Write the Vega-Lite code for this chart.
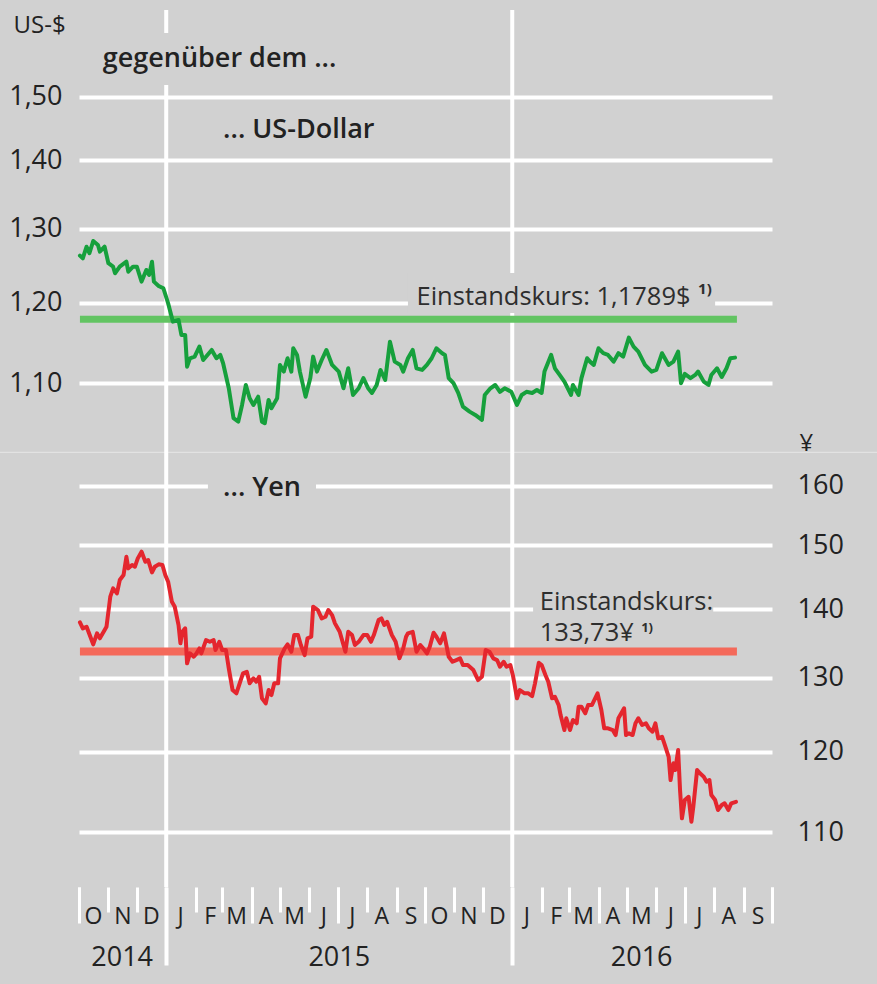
{
  "$schema": "https://vega.github.io/schema/vega-lite/v6.json",
  "width": 693,
  "height": 877,
  "autosize": {"type": "none"},
  "padding": {"left": 79, "top": 10, "right": 105, "bottom": 97},
  "background": "#d1d1d1",
  "config": {
    "view": {"stroke": null},
    "font": "Open Sans",
    "axis": {"labelFont": "Open Sans", "titleFont": "Open Sans", "labelColor": "#222222", "titleColor": "#222222"},
    "text": {"font": "Open Sans", "color": "#222222"}
  },
  "datasets": {
    "usd": [
      {"date": "2014-10-02", "rate": 1.2630}, {"date": "2014-10-05", "rate": 1.2594}, {"date": "2014-10-09", "rate": 1.2753},
      {"date": "2014-10-12", "rate": 1.2663}, {"date": "2014-10-16", "rate": 1.2832}, {"date": "2014-10-21", "rate": 1.2777},
      {"date": "2014-10-23", "rate": 1.2685}, {"date": "2014-10-28", "rate": 1.2753}, {"date": "2014-11-01", "rate": 1.2527},
      {"date": "2014-11-06", "rate": 1.2480}, {"date": "2014-11-08", "rate": 1.2392}, {"date": "2014-11-13", "rate": 1.2480},
      {"date": "2014-11-20", "rate": 1.2548}, {"date": "2014-11-22", "rate": 1.2413}, {"date": "2014-11-27", "rate": 1.2480},
      {"date": "2014-12-01", "rate": 1.2480}, {"date": "2014-12-06", "rate": 1.2280}, {"date": "2014-12-11", "rate": 1.2436},
      {"date": "2014-12-14", "rate": 1.2369}, {"date": "2014-12-17", "rate": 1.2548}, {"date": "2014-12-19", "rate": 1.2280},
      {"date": "2014-12-24", "rate": 1.2223}, {"date": "2014-12-29", "rate": 1.2192}, {"date": "2015-01-03", "rate": 1.1996},
      {"date": "2015-01-08", "rate": 1.1760}, {"date": "2015-01-14", "rate": 1.1781}, {"date": "2015-01-17", "rate": 1.1592},
      {"date": "2015-01-21", "rate": 1.1592}, {"date": "2015-01-23", "rate": 1.1201}, {"date": "2015-01-26", "rate": 1.1303},
      {"date": "2015-01-31", "rate": 1.1323}, {"date": "2015-02-05", "rate": 1.1446}, {"date": "2015-02-09", "rate": 1.1282},
      {"date": "2015-02-18", "rate": 1.1405}, {"date": "2015-02-23", "rate": 1.1303}, {"date": "2015-02-27", "rate": 1.1344},
      {"date": "2015-03-02", "rate": 1.1242}, {"date": "2015-03-08", "rate": 1.0942}, {"date": "2015-03-13", "rate": 1.0593},
      {"date": "2015-03-18", "rate": 1.0554}, {"date": "2015-03-22", "rate": 1.0746}, {"date": "2015-03-26", "rate": 1.0981},
      {"date": "2015-03-30", "rate": 1.0825}, {"date": "2015-04-03", "rate": 1.0746}, {"date": "2015-04-08", "rate": 1.0843},
      {"date": "2015-04-12", "rate": 1.0554}, {"date": "2015-04-15", "rate": 1.0536}, {"date": "2015-04-19", "rate": 1.0805},
      {"date": "2015-04-22", "rate": 1.0708}, {"date": "2015-04-28", "rate": 1.0825}, {"date": "2015-05-01", "rate": 1.1222},
      {"date": "2015-05-05", "rate": 1.1141}, {"date": "2015-05-09", "rate": 1.1303}, {"date": "2015-05-13", "rate": 1.1141},
      {"date": "2015-05-15", "rate": 1.1426}, {"date": "2015-05-19", "rate": 1.1344}, {"date": "2015-05-22", "rate": 1.1141},
      {"date": "2015-05-28", "rate": 1.0843}, {"date": "2015-06-02", "rate": 1.1063}, {"date": "2015-06-05", "rate": 1.1323},
      {"date": "2015-06-09", "rate": 1.1141}, {"date": "2015-06-14", "rate": 1.1282}, {"date": "2015-06-19", "rate": 1.1405},
      {"date": "2015-06-25", "rate": 1.1222}, {"date": "2015-07-02", "rate": 1.1141}, {"date": "2015-07-07", "rate": 1.0942},
      {"date": "2015-07-12", "rate": 1.1181}, {"date": "2015-07-17", "rate": 1.0863}, {"date": "2015-07-23", "rate": 1.0942},
      {"date": "2015-07-28", "rate": 1.1063}, {"date": "2015-08-02", "rate": 1.0942}, {"date": "2015-08-06", "rate": 1.0887},
      {"date": "2015-08-11", "rate": 1.0981}, {"date": "2015-08-15", "rate": 1.1161}, {"date": "2015-08-20", "rate": 1.1041},
      {"date": "2015-08-25", "rate": 1.1508}, {"date": "2015-08-30", "rate": 1.1262}, {"date": "2015-09-05", "rate": 1.1222},
      {"date": "2015-09-08", "rate": 1.1141}, {"date": "2015-09-13", "rate": 1.1303}, {"date": "2015-09-18", "rate": 1.1405},
      {"date": "2015-09-22", "rate": 1.1181}, {"date": "2015-09-28", "rate": 1.1161}, {"date": "2015-10-03", "rate": 1.1222},
      {"date": "2015-10-08", "rate": 1.1303}, {"date": "2015-10-13", "rate": 1.1426}, {"date": "2015-10-19", "rate": 1.1365},
      {"date": "2015-10-22", "rate": 1.1344}, {"date": "2015-10-26", "rate": 1.1063}, {"date": "2015-10-31", "rate": 1.1002},
      {"date": "2015-11-05", "rate": 1.0887}, {"date": "2015-11-10", "rate": 1.0727}, {"date": "2015-11-17", "rate": 1.0669},
      {"date": "2015-11-23", "rate": 1.0631}, {"date": "2015-11-30", "rate": 1.0574}, {"date": "2015-12-03", "rate": 1.0863},
      {"date": "2015-12-09", "rate": 1.0942}, {"date": "2015-12-14", "rate": 1.0981}, {"date": "2015-12-19", "rate": 1.0900},
      {"date": "2015-12-24", "rate": 1.0942}, {"date": "2015-12-31", "rate": 1.0900}, {"date": "2016-01-06", "rate": 1.0746},
      {"date": "2016-01-11", "rate": 1.0863}, {"date": "2016-01-16", "rate": 1.0900}, {"date": "2016-01-22", "rate": 1.0887},
      {"date": "2016-01-27", "rate": 1.0922}, {"date": "2016-02-01", "rate": 1.0887}, {"date": "2016-02-04", "rate": 1.1141},
      {"date": "2016-02-11", "rate": 1.1344}, {"date": "2016-02-15", "rate": 1.1181}, {"date": "2016-02-20", "rate": 1.1101},
      {"date": "2016-02-25", "rate": 1.1021}, {"date": "2016-03-03", "rate": 1.0863}, {"date": "2016-03-05", "rate": 1.0981},
      {"date": "2016-03-11", "rate": 1.0863}, {"date": "2016-03-14", "rate": 1.1063}, {"date": "2016-03-20", "rate": 1.1303},
      {"date": "2016-03-23", "rate": 1.1262}, {"date": "2016-03-27", "rate": 1.1222}, {"date": "2016-04-01", "rate": 1.1426},
      {"date": "2016-04-06", "rate": 1.1365}, {"date": "2016-04-11", "rate": 1.1344}, {"date": "2016-04-17", "rate": 1.1262},
      {"date": "2016-04-22", "rate": 1.1365}, {"date": "2016-04-27", "rate": 1.1323}, {"date": "2016-05-03", "rate": 1.1558},
      {"date": "2016-05-08", "rate": 1.1446}, {"date": "2016-05-13", "rate": 1.1384}, {"date": "2016-05-20", "rate": 1.1222},
      {"date": "2016-05-27", "rate": 1.1141}, {"date": "2016-06-01", "rate": 1.1161}, {"date": "2016-06-07", "rate": 1.1365},
      {"date": "2016-06-14", "rate": 1.1222}, {"date": "2016-06-19", "rate": 1.1262}, {"date": "2016-06-24", "rate": 1.1384},
      {"date": "2016-06-27", "rate": 1.1002}, {"date": "2016-07-01", "rate": 1.1113}, {"date": "2016-07-07", "rate": 1.1063},
      {"date": "2016-07-12", "rate": 1.1101}, {"date": "2016-07-15", "rate": 1.1141}, {"date": "2016-07-21", "rate": 1.1021},
      {"date": "2016-07-26", "rate": 1.0981}, {"date": "2016-07-29", "rate": 1.1101}, {"date": "2016-08-04", "rate": 1.1181},
      {"date": "2016-08-09", "rate": 1.1077}, {"date": "2016-08-14", "rate": 1.1181}, {"date": "2016-08-18", "rate": 1.1303},
      {"date": "2016-08-23", "rate": 1.1311}
    ],
    "yen": [
      {"date": "2014-10-02", "rate": 138.03}, {"date": "2014-10-05", "rate": 137.14}, {"date": "2014-10-09", "rate": 137.38},
      {"date": "2014-10-13", "rate": 135.90}, {"date": "2014-10-16", "rate": 134.78}, {"date": "2014-10-20", "rate": 136.40},
      {"date": "2014-10-23", "rate": 135.66}, {"date": "2014-10-27", "rate": 136.63}, {"date": "2014-10-30", "rate": 137.38},
      {"date": "2014-11-03", "rate": 141.91}, {"date": "2014-11-06", "rate": 143.20}, {"date": "2014-11-10", "rate": 142.43},
      {"date": "2014-11-13", "rate": 144.49}, {"date": "2014-11-17", "rate": 145.28}, {"date": "2014-11-20", "rate": 148.18},
      {"date": "2014-11-22", "rate": 146.33}, {"date": "2014-11-26", "rate": 146.86}, {"date": "2014-11-29", "rate": 146.59},
      {"date": "2014-12-02", "rate": 147.92}, {"date": "2014-12-06", "rate": 148.99}, {"date": "2014-12-10", "rate": 147.38},
      {"date": "2014-12-13", "rate": 147.65}, {"date": "2014-12-17", "rate": 145.70}, {"date": "2014-12-20", "rate": 146.59},
      {"date": "2014-12-24", "rate": 146.97}, {"date": "2014-12-28", "rate": 146.86}, {"date": "2014-12-31", "rate": 145.28},
      {"date": "2015-01-03", "rate": 144.23}, {"date": "2015-01-07", "rate": 141.14}, {"date": "2015-01-10", "rate": 140.38},
      {"date": "2015-01-14", "rate": 137.63}, {"date": "2015-01-16", "rate": 134.93}, {"date": "2015-01-18", "rate": 136.63},
      {"date": "2015-01-21", "rate": 137.14}, {"date": "2015-01-23", "rate": 132.04}, {"date": "2015-01-26", "rate": 133.48},
      {"date": "2015-01-30", "rate": 132.99}, {"date": "2015-02-02", "rate": 133.48}, {"date": "2015-02-05", "rate": 134.20},
      {"date": "2015-02-07", "rate": 133.48}, {"date": "2015-02-12", "rate": 135.41}, {"date": "2015-02-16", "rate": 135.16},
      {"date": "2015-02-20", "rate": 135.41}, {"date": "2015-02-22", "rate": 133.96}, {"date": "2015-02-26", "rate": 135.16},
      {"date": "2015-03-01", "rate": 133.96}, {"date": "2015-03-05", "rate": 133.96}, {"date": "2015-03-08", "rate": 131.33},
      {"date": "2015-03-12", "rate": 128.28}, {"date": "2015-03-16", "rate": 127.83}, {"date": "2015-03-20", "rate": 129.44},
      {"date": "2015-03-23", "rate": 130.62}, {"date": "2015-03-27", "rate": 130.85}, {"date": "2015-03-30", "rate": 129.22},
      {"date": "2015-04-03", "rate": 129.92}, {"date": "2015-04-06", "rate": 129.44}, {"date": "2015-04-09", "rate": 130.14},
      {"date": "2015-04-12", "rate": 127.14}, {"date": "2015-04-16", "rate": 126.45}, {"date": "2015-04-19", "rate": 128.28},
      {"date": "2015-04-22", "rate": 127.59}, {"date": "2015-04-25", "rate": 129.22}, {"date": "2015-04-29", "rate": 129.22},
      {"date": "2015-05-01", "rate": 132.76}, {"date": "2015-05-06", "rate": 134.20}, {"date": "2015-05-09", "rate": 134.78},
      {"date": "2015-05-13", "rate": 133.71}, {"date": "2015-05-16", "rate": 136.15}, {"date": "2015-05-20", "rate": 136.15},
      {"date": "2015-05-23", "rate": 134.68}, {"date": "2015-05-27", "rate": 133.23}, {"date": "2015-05-30", "rate": 135.66},
      {"date": "2015-06-03", "rate": 135.90}, {"date": "2015-06-05", "rate": 140.38}, {"date": "2015-06-10", "rate": 139.88},
      {"date": "2015-06-14", "rate": 138.63}, {"date": "2015-06-18", "rate": 138.87}, {"date": "2015-06-21", "rate": 139.88},
      {"date": "2015-06-25", "rate": 139.12}, {"date": "2015-06-28", "rate": 137.88}, {"date": "2015-07-03", "rate": 136.63},
      {"date": "2015-07-09", "rate": 133.71}, {"date": "2015-07-12", "rate": 136.63}, {"date": "2015-07-16", "rate": 136.15},
      {"date": "2015-07-19", "rate": 134.68}, {"date": "2015-07-23", "rate": 135.16}, {"date": "2015-07-28", "rate": 136.15},
      {"date": "2015-08-01", "rate": 136.15}, {"date": "2015-08-05", "rate": 135.16}, {"date": "2015-08-08", "rate": 136.15},
      {"date": "2015-08-13", "rate": 138.37}, {"date": "2015-08-16", "rate": 138.63}, {"date": "2015-08-19", "rate": 137.63},
      {"date": "2015-08-22", "rate": 138.12}, {"date": "2015-08-27", "rate": 136.15}, {"date": "2015-08-31", "rate": 135.16},
      {"date": "2015-09-04", "rate": 132.76}, {"date": "2015-09-08", "rate": 134.20}, {"date": "2015-09-11", "rate": 135.90},
      {"date": "2015-09-13", "rate": 136.40}, {"date": "2015-09-18", "rate": 136.63}, {"date": "2015-09-22", "rate": 133.71},
      {"date": "2015-09-26", "rate": 134.68}, {"date": "2015-09-29", "rate": 134.20}, {"date": "2015-10-03", "rate": 133.48},
      {"date": "2015-10-06", "rate": 134.44}, {"date": "2015-10-10", "rate": 136.49}, {"date": "2015-10-13", "rate": 135.90},
      {"date": "2015-10-17", "rate": 134.93}, {"date": "2015-10-21", "rate": 136.40}, {"date": "2015-10-26", "rate": 132.99},
      {"date": "2015-10-30", "rate": 132.27}, {"date": "2015-11-03", "rate": 132.51}, {"date": "2015-11-07", "rate": 132.76},
      {"date": "2015-11-10", "rate": 131.80}, {"date": "2015-11-15", "rate": 131.80}, {"date": "2015-11-21", "rate": 131.09},
      {"date": "2015-11-26", "rate": 129.68}, {"date": "2015-11-30", "rate": 130.14}, {"date": "2015-12-04", "rate": 133.96},
      {"date": "2015-12-08", "rate": 133.71}, {"date": "2015-12-12", "rate": 132.76}, {"date": "2015-12-16", "rate": 132.51},
      {"date": "2015-12-19", "rate": 131.56}, {"date": "2015-12-23", "rate": 132.27}, {"date": "2015-12-26", "rate": 131.56},
      {"date": "2015-12-30", "rate": 131.80}, {"date": "2016-01-02", "rate": 130.14}, {"date": "2016-01-06", "rate": 127.14},
      {"date": "2016-01-09", "rate": 128.28}, {"date": "2016-01-14", "rate": 127.83}, {"date": "2016-01-18", "rate": 127.83},
      {"date": "2016-01-22", "rate": 127.45}, {"date": "2016-01-25", "rate": 129.22}, {"date": "2016-01-29", "rate": 132.13},
      {"date": "2016-02-01", "rate": 131.80}, {"date": "2016-02-05", "rate": 130.38}, {"date": "2016-02-08", "rate": 129.44},
      {"date": "2016-02-12", "rate": 127.14}, {"date": "2016-02-15", "rate": 127.36}, {"date": "2016-02-19", "rate": 126.22},
      {"date": "2016-02-21", "rate": 124.86}, {"date": "2016-02-25", "rate": 122.85}, {"date": "2016-02-27", "rate": 124.42},
      {"date": "2016-03-02", "rate": 122.85}, {"date": "2016-03-05", "rate": 124.19}, {"date": "2016-03-09", "rate": 123.75},
      {"date": "2016-03-11", "rate": 125.99}, {"date": "2016-03-14", "rate": 125.99}, {"date": "2016-03-18", "rate": 125.09},
      {"date": "2016-03-21", "rate": 126.22}, {"date": "2016-03-25", "rate": 126.22}, {"date": "2016-03-31", "rate": 127.83},
      {"date": "2016-04-04", "rate": 125.54}, {"date": "2016-04-07", "rate": 123.08}, {"date": "2016-04-11", "rate": 123.08},
      {"date": "2016-04-16", "rate": 122.85}, {"date": "2016-04-19", "rate": 122.19}, {"date": "2016-04-22", "rate": 124.42},
      {"date": "2016-04-25", "rate": 125.09}, {"date": "2016-04-28", "rate": 125.77}, {"date": "2016-04-30", "rate": 122.19},
      {"date": "2016-05-03", "rate": 122.41}, {"date": "2016-05-07", "rate": 122.19}, {"date": "2016-05-10", "rate": 123.75},
      {"date": "2016-05-13", "rate": 124.42}, {"date": "2016-05-17", "rate": 123.52}, {"date": "2016-05-21", "rate": 123.75},
      {"date": "2016-05-24", "rate": 123.08}, {"date": "2016-05-28", "rate": 122.63}, {"date": "2016-05-31", "rate": 123.75},
      {"date": "2016-06-03", "rate": 121.75}, {"date": "2016-06-07", "rate": 121.97}, {"date": "2016-06-10", "rate": 120.87},
      {"date": "2016-06-14", "rate": 119.35}, {"date": "2016-06-16", "rate": 116.38}, {"date": "2016-06-19", "rate": 118.51},
      {"date": "2016-06-21", "rate": 117.65}, {"date": "2016-06-24", "rate": 120.22}, {"date": "2016-06-26", "rate": 115.13},
      {"date": "2016-06-28", "rate": 111.66}, {"date": "2016-07-01", "rate": 113.89}, {"date": "2016-07-05", "rate": 114.30},
      {"date": "2016-07-08", "rate": 111.25}, {"date": "2016-07-10", "rate": 113.07}, {"date": "2016-07-14", "rate": 117.65},
      {"date": "2016-07-17", "rate": 117.23}, {"date": "2016-07-21", "rate": 116.80}, {"date": "2016-07-24", "rate": 116.17},
      {"date": "2016-07-27", "rate": 116.38}, {"date": "2016-07-29", "rate": 114.51}, {"date": "2016-08-02", "rate": 113.89},
      {"date": "2016-08-05", "rate": 112.67}, {"date": "2016-08-09", "rate": 113.28}, {"date": "2016-08-12", "rate": 113.49},
      {"date": "2016-08-16", "rate": 112.67}, {"date": "2016-08-19", "rate": 113.49}, {"date": "2016-08-24", "rate": 113.68}
    ]
  },
  "layer": [
    {
      "data": {"values": [{}]},
      "mark": {"type": "rule", "color": "#e6e6e6", "strokeWidth": 1},
      "encoding": {
        "x": {
          "datum": {"year": 2014, "month": 6, "date": 1, "utc": true}, "type": "temporal", "scale": {"type": "utc"},
          "axis": {
            "orient": "bottom", "title": null, "domain": false, "grid": false, "labels": false,
            "values": [
              {"year": 2014, "month": 10, "date": 1, "utc": true}, {"year": 2015, "month": 4, "date": 1, "utc": true},
              {"year": 2015, "month": 7, "date": 1, "utc": true}, {"year": 2015, "month": 10, "date": 1, "utc": true},
              {"year": 2016, "month": 4, "date": 1, "utc": true}, {"year": 2016, "month": 7, "date": 1, "utc": true},
              {"year": 2016, "month": 10, "date": 1, "utc": true}
            ],
            "ticks": true, "tickSize": 36, "tickWidth": 3, "tickColor": "#ffffff"
          }
        },
        "x2": {"datum": {"year": 2017, "month": 3, "date": 1, "utc": true}},
        "y": {"datum": 165.9, "type": "quantitative", "scale": {"type": "log", "domain": [103.67, 267.69], "nice": false}, "axis": null}
      }
    },
    {
      "data": {"values": [{"jahr": "2015-01-01"}, {"jahr": "2016-01-01"}]},
      "mark": {"type": "rule", "color": "#ffffff", "strokeWidth": 4},
      "encoding": {
        "x": {
          "field": "jahr", "type": "temporal", "scale": {"type": "utc"},
          "axis": {
            "orient": "bottom", "title": null, "domain": false, "grid": false, "labels": false,
            "values": [{"year": 2015, "month": 1, "date": 1, "utc": true}, {"year": 2016, "month": 1, "date": 1, "utc": true}],
            "ticks": true, "tickSize": 78, "tickWidth": 4, "tickColor": "#ffffff"
          }
        }
      }
    },
    {
      "data": {"values": [{}]},
      "mark": {"type": "rect", "color": "#d1d1d1"},
      "encoding": {
        "x": {"datum": {"year": 2014, "month": 10, "date": 18, "utc": true}, "type": "temporal", "scale": {"type": "utc"}, "axis": null},
        "x2": {"datum": {"year": 2015, "month": 7, "date": 8, "utc": true}},
        "y": {"datum": 1.6069, "type": "quantitative", "scale": {"type": "log", "domain": [0.63799, 1.64739], "nice": false}, "axis": null},
        "y2": {"datum": 1.519}
      }
    },
    {
      "data": {"values": [{}]},
      "mark": {"type": "rect", "color": "#d1d1d1"},
      "encoding": {
        "x": {"datum": {"year": 2015, "month": 9, "date": 13, "utc": true}, "type": "temporal", "scale": {"type": "utc"}, "axis": null},
        "x2": {"datum": {"year": 2016, "month": 8, "date": 2, "utc": true}},
        "y": {"datum": 1.23951, "type": "quantitative", "scale": {"type": "log", "domain": [0.63799, 1.64739], "nice": false}, "axis": null},
        "y2": {"datum": 1.18702}
      }
    },
    {
      "data": {"values": [{}]},
      "mark": {"type": "rule", "color": "#62c462", "strokeWidth": 7, "strokeCap": "butt"},
      "encoding": {
        "x": {"datum": {"year": 2014, "month": 10, "date": 2, "utc": true}, "type": "temporal", "scale": {"type": "utc"}, "axis": null},
        "x2": {"datum": {"year": 2016, "month": 8, "date": 25, "utc": true}},
        "y": {"datum": 1.1789, "type": "quantitative", "scale": {"type": "log", "domain": [0.63799, 1.64739], "nice": false}, "axis": null}
      }
    },
    {
      "data": {"name": "usd"},
      "mark": {"type": "line", "color": "#16a03c", "strokeWidth": 4, "strokeJoin": "round", "strokeCap": "round"},
      "encoding": {
        "x": {
          "field": "date", "type": "temporal",
          "scale": {"type": "utc", "domain": [{"year": 2014, "month": 10, "date": 1, "utc": true}, {"year": 2016, "month": 10, "date": 1, "utc": true}]},
          "axis": {
            "orient": "bottom", "title": null, "domain": false, "grid": false,
            "tickCount": {"interval": "month", "step": 1},
            "ticks": true, "tickColor": "#ffffff", "tickWidth": 3, "tickSize": 25,
            "labelPadding": 11, "labelBaseline": "alphabetic", "labelAlign": "center", "labelOffset": 14,
            "labelExpr": "(utcmonth(datum.value) == 9 && utcyear(datum.value) == 2016) ? '' : substring(utcFormat(datum.value, '%b'), 0, 1)",
            "labelFlush": false, "labelOverlap": false, "labelBound": false,
            "labelFontSize": 23
          }
        },
        "y": {
          "field": "rate", "type": "quantitative",
          "scale": {"type": "log", "domain": [0.63799, 1.64739], "nice": false},
          "axis": {
            "orient": "left", "values": [1.1, 1.2, 1.3, 1.4, 1.5],
            "labelExpr": "replace(format(datum.value, '.2f'), '.', ',')",
            "grid": true, "gridColor": "#ffffff", "gridWidth": 4,
            "ticks": false, "domain": false, "labelPadding": 17, "labelFontSize": 27,
            "title": "US-$", "titleAngle": 0, "titleX": -66, "titleY": 22, "titleAlign": "left", "titleBaseline": "alphabetic",
            "titleFontSize": 24, "titleFontWeight": "normal"
          }
        }
      }
    },
    {
      "data": {"values": [{}]},
      "mark": {"type": "text", "text": "gegenüber dem ...", "align": "left", "baseline": "alphabetic", "fontSize": 27, "fontWeight": 600},
      "encoding": {
        "x": {"datum": {"year": 2014, "month": 10, "date": 26, "utc": true}, "type": "temporal", "scale": {"type": "utc"}, "axis": null},
        "y": {"datum": 1.5494, "type": "quantitative", "scale": {"type": "log", "domain": [0.63799, 1.64739], "nice": false}, "axis": null}
      }
    },
    {
      "data": {"values": [{}]},
      "mark": {"type": "text", "text": "... US-Dollar", "align": "left", "baseline": "alphabetic", "fontSize": 27, "fontWeight": 600},
      "encoding": {
        "x": {"datum": {"year": 2015, "month": 3, "date": 2, "utc": true}, "type": "temporal", "scale": {"type": "utc"}, "axis": null},
        "y": {"datum": 1.43393, "type": "quantitative", "scale": {"type": "log", "domain": [0.63799, 1.64739], "nice": false}, "axis": null}
      }
    },
    {
      "data": {"values": [{}]},
      "mark": {"type": "text", "text": "Einstandskurs: 1,1789$", "align": "left", "baseline": "alphabetic", "fontSize": 25.5, "color": "#2e2e2e"},
      "encoding": {
        "x": {"datum": {"year": 2015, "month": 9, "date": 22, "utc": true}, "type": "temporal", "scale": {"type": "utc"}, "axis": null},
        "y": {"datum": 1.19732, "type": "quantitative", "scale": {"type": "log", "domain": [0.63799, 1.64739], "nice": false}, "axis": null}
      }
    },
    {
      "data": {"values": [{}]},
      "mark": {"type": "text", "text": "1)", "align": "left", "baseline": "alphabetic", "fontSize": 15, "fontWeight": "bold", "color": "#2e2e2e"},
      "encoding": {
        "x": {"datum": {"year": 2016, "month": 7, "date": 15, "utc": true}, "type": "temporal", "scale": {"type": "utc"}, "axis": null},
        "y": {"datum": 1.21127, "type": "quantitative", "scale": {"type": "log", "domain": [0.63799, 1.64739], "nice": false}, "axis": null}
      }
    },
    {
      "data": {"values": [{}]},
      "mark": {"type": "rect", "color": "#d1d1d1"},
      "encoding": {
        "x": {"datum": {"year": 2015, "month": 2, "date": 14, "utc": true}, "type": "temporal", "scale": {"type": "utc"}, "axis": null},
        "x2": {"datum": {"year": 2015, "month": 6, "date": 8, "utc": true}},
        "y": {"datum": 162.76, "type": "quantitative", "scale": {"type": "log", "domain": [103.67, 267.69], "nice": false}, "axis": null},
        "y2": {"datum": 157.56}
      }
    },
    {
      "data": {"values": [{}]},
      "mark": {"type": "rect", "color": "#d1d1d1"},
      "encoding": {
        "x": {"datum": {"year": 2016, "month": 1, "date": 23, "utc": true}, "type": "temporal", "scale": {"type": "utc"}, "axis": null},
        "x2": {"datum": {"year": 2016, "month": 7, "date": 31, "utc": true}},
        "y": {"datum": 143.72, "type": "quantitative", "scale": {"type": "log", "domain": [103.67, 267.69], "nice": false}, "axis": null},
        "y2": {"datum": 136.15}
      }
    },
    {
      "data": {"values": [{}]},
      "mark": {"type": "rule", "color": "#f4695a", "strokeWidth": 8, "strokeCap": "butt"},
      "encoding": {
        "x": {"datum": {"year": 2014, "month": 10, "date": 2, "utc": true}, "type": "temporal", "scale": {"type": "utc"}, "axis": null},
        "x2": {"datum": {"year": 2016, "month": 8, "date": 25, "utc": true}},
        "y": {"datum": 133.73, "type": "quantitative", "scale": {"type": "log", "domain": [103.67, 267.69], "nice": false}, "axis": null}
      }
    },
    {
      "data": {"name": "yen"},
      "mark": {"type": "line", "color": "#e4262e", "strokeWidth": 4, "strokeJoin": "round", "strokeCap": "round"},
      "encoding": {
        "x": {
          "field": "date", "type": "temporal",
          "scale": {"type": "utc", "domain": [{"year": 2014, "month": 10, "date": 1, "utc": true}, {"year": 2016, "month": 10, "date": 1, "utc": true}]},
          "axis": {
            "orient": "bottom", "title": null, "domain": false, "ticks": false, "grid": false,
            "values": [{"year": 2014, "month": 11, "date": 15, "utc": true}, {"year": 2015, "month": 7, "date": 2, "utc": true}, {"year": 2016, "month": 5, "date": 16, "utc": true}],
            "labelExpr": "utcFormat(datum.value, '%Y')",
            "labelPadding": 78, "labelBaseline": "alphabetic", "labelAlign": "center",
            "labelFlush": false, "labelOverlap": false, "labelBound": false, "labelFontSize": 27
          }
        },
        "y": {
          "field": "rate", "type": "quantitative",
          "scale": {"type": "log", "domain": [103.67, 267.69], "nice": false},
          "axis": {
            "orient": "right", "values": [110, 120, 130, 140, 150, 160], "format": "d",
            "grid": true, "gridColor": "#ffffff", "gridWidth": 4,
            "ticks": false, "domain": false, "labelPadding": 25, "labelFontSize": 27,
            "title": "¥", "titleAngle": 0, "titleX": 27, "titleY": 440, "titleAlign": "left", "titleBaseline": "alphabetic",
            "titleFontSize": 24, "titleFontWeight": "normal"
          }
        }
      }
    },
    {
      "data": {"values": [{}]},
      "mark": {"type": "text", "text": "... Yen", "align": "left", "baseline": "alphabetic", "fontSize": 27, "fontWeight": 600},
      "encoding": {
        "x": {"datum": {"year": 2015, "month": 3, "date": 2, "utc": true}, "type": "temporal", "scale": {"type": "utc"}, "axis": null},
        "y": {"datum": 158.245, "type": "quantitative", "scale": {"type": "log", "domain": [103.67, 267.69], "nice": false}, "axis": null}
      }
    },
    {
      "data": {"values": [{}]},
      "mark": {"type": "text", "text": "Einstandskurs:", "align": "left", "baseline": "alphabetic", "fontSize": 25.5, "color": "#2e2e2e"},
      "encoding": {
        "x": {"datum": {"year": 2016, "month": 1, "date": 30, "utc": true}, "type": "temporal", "scale": {"type": "utc"}, "axis": null},
        "y": {"datum": 139.962, "type": "quantitative", "scale": {"type": "log", "domain": [103.67, 267.69], "nice": false}, "axis": null}
      }
    },
    {
      "data": {"values": [{}]},
      "mark": {"type": "text", "text": "133,73¥", "align": "left", "baseline": "alphabetic", "fontSize": 25.5, "color": "#2e2e2e"},
      "encoding": {
        "x": {"datum": {"year": 2016, "month": 1, "date": 30, "utc": true}, "type": "temporal", "scale": {"type": "utc"}, "axis": null},
        "y": {"datum": 135.318, "type": "quantitative", "scale": {"type": "log", "domain": [103.67, 267.69], "nice": false}, "axis": null}
      }
    },
    {
      "data": {"values": [{}]},
      "mark": {"type": "text", "text": "1)", "align": "left", "baseline": "alphabetic", "fontSize": 13, "fontWeight": "bold", "color": "#2e2e2e"},
      "encoding": {
        "x": {"datum": {"year": 2016, "month": 5, "date": 16, "utc": true}, "type": "temporal", "scale": {"type": "utc"}, "axis": null},
        "y": {"datum": 136.62, "type": "quantitative", "scale": {"type": "log", "domain": [103.67, 267.69], "nice": false}, "axis": null}
      }
    }
  ],
  "resolve": {"scale": {"y": "independent"}, "axis": {"x": "independent", "y": "independent"}}
}
